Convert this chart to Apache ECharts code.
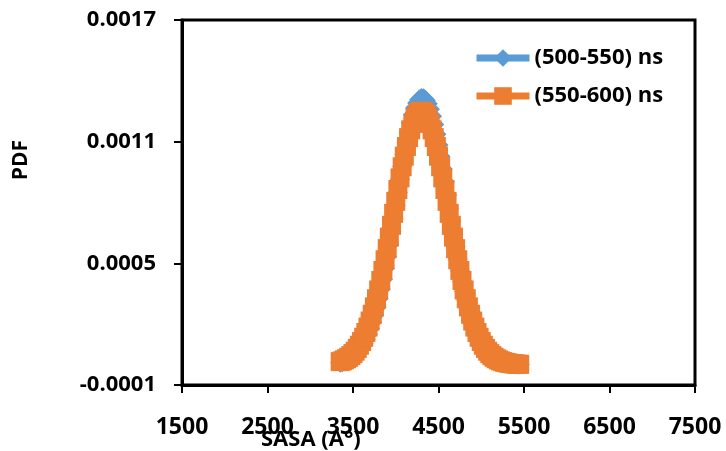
<!DOCTYPE html>
<html>
<head>
<meta charset="utf-8">
<script src="https://cdn.jsdelivr.net/npm/echarts@6/dist/echarts.min.js"></script>
<style>html,body{margin:0;padding:0;background:#fff;}#c{width:726px;height:451px;}</style>
</head>
<body>
<div id="c"></div>
<script>
// SASA values (Å²), every 25 from 3350 to 5450
const sasa = [3350,3375,3400,3425,3450,3475,3500,3525,3550,3575,3600,3625,3650,3675,3700,3725,3750,3775,3800,3825,3850,3875,3900,3925,3950,3975,4000,4025,4050,4075,4100,4125,4150,4175,4200,4225,4250,4275,4300,4325,4350,4375,4400,4425,4450,4475,4500,4525,4550,4575,4600,4625,4650,4675,4700,4725,4750,4775,4800,4825,4850,4875,4900,4925,4950,4975,5000,5025,5050,5075,5100,5125,5150,5175,5200,5225,5250,5275,5300,5325,5350,5375,5400,5425,5450];
// PDF values (×1e-6)
const pdf500_550 = [9.3,12.0,15.4,19.6,24.7,31.0,38.7,48.0,59.0,72.2,87.6,105.7,126.6,150.7,178.1,209.1,243.9,282.6,325.2,371.7,422.0,475.9,533.2,593.3,655.7,719.9,785.1,850.4,915.1,978.0,1038.3,1094.9,1146.8,1193.2,1233.1,1265.9,1290.8,1307.4,1315.3,1314.4,1304.7,1286.5,1259.9,1225.7,1184.4,1136.8,1083.9,1026.4,965.5,902.1,837.2,771.9,707.2,643.3,581.3,521.6,464.9,411.7,362.3,316.4,274.5,236.6,202.6,172.2,145.3,122.0,101.9,84.4,69.4,56.6,46.0,37.0,29.6,23.6,18.6,14.6,11.4,8.8,6.8,5.2,3.9,3.0,2.2,1.6,1.2];
const pdf550_600 = [15.2,19.2,23.9,29.7,36.7,45.0,54.9,66.6,80.2,96.0,114.3,135.2,158.9,185.6,215.6,248.8,285.4,325.4,368.8,415.5,465.1,517.6,572.5,629.3,687.5,746.5,805.7,864.2,921.4,976.3,1028.3,1076.4,1120.0,1158.2,1190.4,1216.1,1234.8,1246.2,1250.0,1246.2,1234.8,1216.1,1190.4,1158.2,1120.0,1076.4,1028.3,976.3,921.4,864.2,805.7,746.5,687.5,629.3,572.5,517.6,465.1,415.5,368.8,325.4,285.4,248.8,215.6,185.6,158.9,135.2,114.3,96.0,80.2,66.6,54.9,45.0,36.7,29.7,23.9,19.2,15.2,12.0,9.5,7.4,5.7,4.4,3.4,2.6,2.0];
const pdfUnit = 1e-6;
const seriesNames = ['(500-550) ns','(550-600) ns'];
const xTicks = {min:1500, max:7500, step:1000};
const yTicks = {min:-0.0001, max:0.0017, step:0.0006};

const FONT = '"Open Sans", "Liberation Sans", sans-serif';
const chart = echarts.init(document.getElementById('c'), null, {renderer:'canvas'});
const pair = ys => sasa.map((x,i)=>[x, ys[i]*pdfUnit]);
chart.setOption({
  animation:false,
  backgroundColor:'#fff',
  grid:{left:182,right:31,top:20,bottom:66,show:true,borderColor:'#000',borderWidth:3,backgroundColor:'transparent'},
  legend:{
    orient:'vertical', left:468, top:42, itemWidth:53, itemHeight:22, itemGap:16,
    lineStyle:{width:7},
    textStyle:{fontFamily:FONT,fontWeight:'bold',fontSize:22,color:'#000'},
    data:seriesNames
  },
  xAxis:{
    type:'value', min:xTicks.min, max:xTicks.max, interval:xTicks.step,
    axisLine:{show:true,onZero:false,lineStyle:{color:'#000',width:3}},
    axisTick:{show:true,inside:false,length:8,lineStyle:{color:'#000',width:2}},
    axisLabel:{margin:31,fontFamily:FONT,fontWeight:'bold',fontSize:23,color:'#000',formatter:v=>String(v)},
    splitLine:{show:false}
  },
  yAxis:{
    type:'value', min:yTicks.min, max:yTicks.max, interval:yTicks.step,
    axisLine:{show:true,onZero:false,lineStyle:{color:'#000',width:3}},
    axisTick:{show:true,inside:false,length:8,lineStyle:{color:'#000',width:2}},
    axisLabel:{margin:26,fontFamily:FONT,fontWeight:'bold',fontSize:22,color:'#000',formatter:v=>v.toFixed(4)},
    splitLine:{show:false}
  },
  title:{
    text:'SASA (A°)', left:256, top:424,
    textStyle:{fontFamily:FONT,fontWeight:'bold',fontSize:22,color:'#000'}
  },
  graphic:[{
    type:'text', left:11, top:140, rotation:Math.PI/2,
    style:{text:'PDF',font:'bold 21px '+FONT,fill:'#000'}
  }],
  series:[
    {name:seriesNames[0],type:'line',data:pair(pdf500_550),symbol:'diamond',symbolSize:20,showAllSymbol:true,
     itemStyle:{color:'#5B9BD5'},lineStyle:{color:'#5B9BD5',width:6},z:2},
    {name:seriesNames[1],type:'line',data:pair(pdf550_600),symbol:'rect',symbolSize:19,showAllSymbol:true,
     itemStyle:{color:'#ED7D31'},lineStyle:{color:'#ED7D31',width:6},z:3}
  ]
});
</script>
</body>
</html>
